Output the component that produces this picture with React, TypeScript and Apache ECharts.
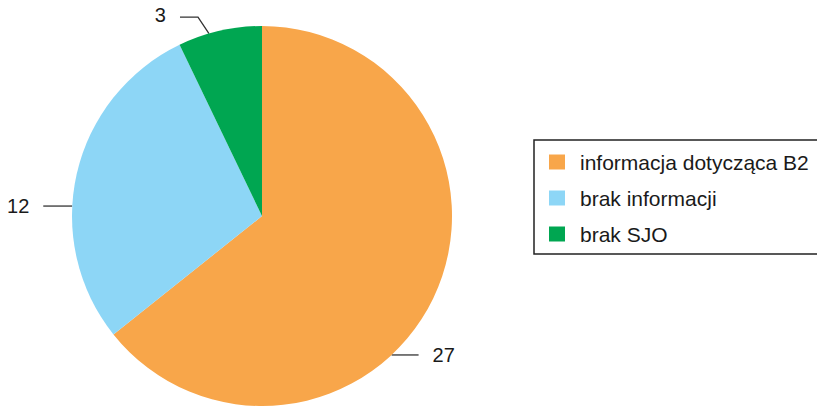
import React, { useEffect, useRef } from "react";
import * as echarts from "echarts";

const categories = ["informacja dotycząca B2", "brak informacji", "brak SJO"];
const values = [27, 12, 3];
const colors = ["#F8A64A", "#8DD6F6", "#00A651"];

export default function App() {
  const ref = useRef<HTMLDivElement>(null);
  useEffect(() => {
    document.body.style.margin = "0";
    const chart = echarts.init(ref.current!, undefined, { renderer: "svg" });
    const cx = 262, cy = 216, R = 190;
    const edge = (deg: number) => {
      const a = (deg * Math.PI) / 180;
      return [cx + R * Math.cos(a), cy - R * Math.sin(a)];
    };
    const labelAngles = [-47, 177, 106.2];
    chart.setOption({
      animation: false,
      color: colors,
      textStyle: { fontFamily: "Liberation Sans, Arial, sans-serif" },
      graphic: [
        {
          type: "rect",
          shape: { x: 534, y: 140, width: 300, height: 114 },
          style: { fill: "#fff", stroke: "#222", lineWidth: 1.5 },
          z: -1,
        },
      ],
      legend: {
        orient: "vertical",
        left: 549,
        top: 151.5,
        itemWidth: 16,
        itemHeight: 15,
        itemGap: 15,
        icon: "rect",
        padding: 0,
        textStyle: {
          fontSize: 21,
          color: "#1a1a1a",
          padding: [0, 0, 0, 10],
          fontFamily: "Liberation Sans, Arial, sans-serif",
        },
        data: categories,
      },
      series: [
        {
          type: "pie",
          center: [cx, cy],
          radius: R,
          startAngle: 90,
          clockwise: true,
          data: categories.map((n, i) => ({ name: n, value: values[i] })),
          itemStyle: { borderWidth: 0 },
          label: {
            show: true,
            formatter: "{c}",
            fontSize: 20,
            overflow: "none",
            edgeDistance: 0,
            color: "#1a1a1a",
            fontFamily: "Liberation Sans, Arial, sans-serif",
          },
          labelLine: { show: true, lineStyle: { color: "#333", width: 1.3 } },
          labelLayout: (p: any) => {
            const i = p.dataIndex;
            const e = edge(labelAngles[i]);
            if (i === 0) {
              const p1 = [e[0] + 27, e[1]];
              return { x: p1[0] + 14, y: e[1], align: "left", verticalAlign: "middle", labelLinePoints: [e, p1, p1] };
            }
            if (i === 1) {
              const p1 = [e[0] - 29, e[1]];
              return { x: p1[0] - 14, y: e[1], align: "right", verticalAlign: "middle", labelLinePoints: [e, p1, p1] };
            }
            const p1 = [e[0] - 11, e[1] - 16.5];
            const p2 = [p1[0] - 18, p1[1]];
            return { x: p2[0] - 14, y: p2[1] - 2, align: "right", verticalAlign: "middle", labelLinePoints: [e, p1, p2] };
          },
        },
      ],
    });
    return () => chart.dispose();
  }, []);
  return <div ref={ref} style={{ width: 817, height: 406 }} />;
}
